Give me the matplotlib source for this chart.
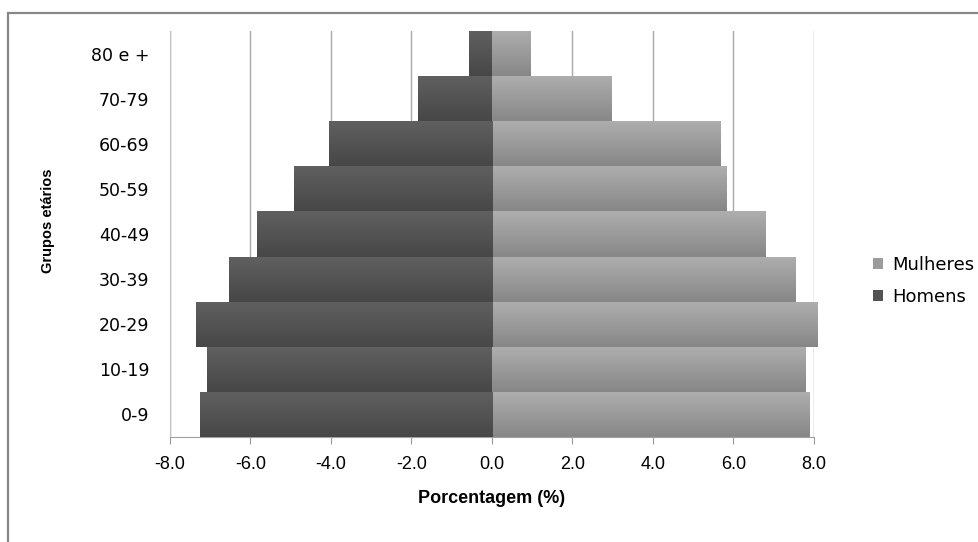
import numpy as np
import matplotlib
matplotlib.use("Agg")
import matplotlib.pyplot as plt
from matplotlib.patches import Rectangle
from matplotlib.colors import LinearSegmentedColormap

# faixas etarias, de baixo para cima
grupos = ["0-9", "10-19", "20-29", "30-39", "40-49", "50-59", "60-69", "70-79", "80 e +"]
homens = [-7.26, -7.07, -7.36, -6.54, -5.85, -4.92, -4.05, -1.83, -0.56]
mulheres = [7.89, 7.80, 8.08, 7.55, 6.80, 5.82, 5.67, 2.98, 0.96]
xticks = [-8, -6, -4, -2, 0, 2, 4, 6, 8]

fig = plt.figure(figsize=(9.79, 5.42), dpi=100)
fig.patches.append(Rectangle((8 / 979, -0.1), 1.2, 1 - 12.5 / 542 + 0.1,
                             transform=fig.transFigure, fill=False,
                             edgecolor="#878787", lw=1.6))

ax = fig.add_axes([170 / 979, 1 - 437 / 542, 644 / 979, (437 - 31) / 542])

y = np.arange(len(grupos))
cmap_h = LinearSegmentedColormap.from_list("h", ["#474747", "#606060"])
cmap_m = LinearSegmentedColormap.from_list("m", ["#878787", "#aeaeae"])

b_m = ax.barh(y, mulheres, height=1.0, color="#9c9c9c", zorder=2, label="Mulheres")
b_h = ax.barh(y, homens, height=1.0, color="#535353", zorder=2, label="Homens")

# degrade vertical em cada barra
grad = np.linspace(0, 1, 64).reshape(-1, 1)
for bars, cmap in ((b_m, cmap_m), (b_h, cmap_h)):
    for p in bars:
        x0, y0 = p.get_x(), p.get_y()
        w, h = p.get_width(), p.get_height()
        im = ax.imshow(grad, cmap=cmap, aspect="auto", origin="lower",
                       extent=[x0, x0 + w, y0, y0 + h], zorder=3,
                       interpolation="bilinear")
        im.set_clip_path(p)

ax.set_xlim(-8, 8)
ax.set_ylim(-0.5, len(grupos) - 0.5)
ax.set_xticks(xticks)
ax.set_xticklabels([f"{v:.1f}" for v in xticks], family="Liberation Sans", fontsize=13)
ax.set_yticks(y)
ax.set_yticklabels(grupos, family="DejaVu Sans", fontsize=12.5)
ax.tick_params(axis="y", length=0, pad=15)
ax.tick_params(axis="x", length=5, color="#9a9a9a", pad=9)

ax.grid(axis="x", color="#a8a8a8", lw=1.0, zorder=0)
ax.set_axisbelow(True)
for s in ("top", "right"):
    ax.spines[s].set_visible(False)
ax.spines["left"].set_color("#c4c4c4")
ax.spines["bottom"].set_color("#a0a0a0")

ax.set_xlabel("Porcentagem (%)", family="Liberation Sans", fontweight="bold",
              fontsize=13, labelpad=12)
fig.text(48 / 979, 1 - 221 / 542, "Grupos etários", rotation=90, ha="center",
         va="center", family="Liberation Sans", fontweight="bold", fontsize=10.5)

ax.legend(handles=[b_m, b_h], loc="center left",
          bbox_to_anchor=(864 / 979, 1 - 281 / 542), bbox_transform=fig.transFigure,
          frameon=False, handlelength=0.55, handleheight=0.55, handletextpad=0.5,
          labelspacing=0.75, prop={"family": "DejaVu Sans", "size": 13},
          borderpad=0)

fig.savefig("out.png", dpi=100)
